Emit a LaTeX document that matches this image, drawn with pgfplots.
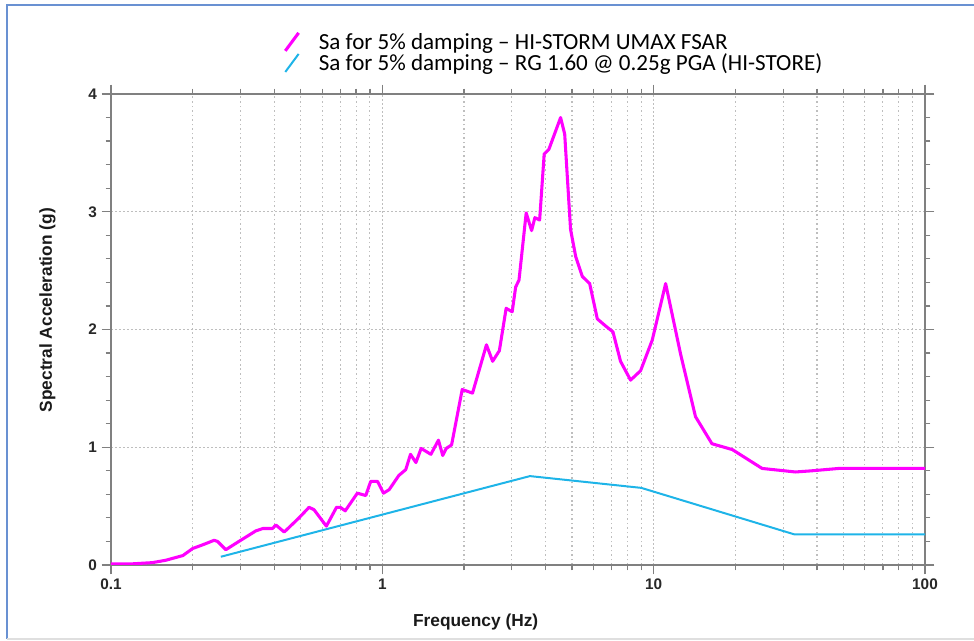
\documentclass[border=0pt]{standalone}
\usepackage{pgfplots}
\pgfplotsset{compat=1.18}
\usepackage{fontspec}
\setmainfont{Liberation Sans}
\newfontfamily\calibri{Carlito}
\definecolor{magline}{RGB}{255,0,255}
\definecolor{blueline}{RGB}{30,180,232}
\definecolor{framebl}{RGB}{105,145,210}
\definecolor{axgray}{RGB}{128,128,128}
\definecolor{gridgray}{RGB}{190,190,190}
\definecolor{txt}{RGB}{40,40,40}
\begin{document}
\begin{tikzpicture}
\path[use as bounding box] (-83.25pt,-57pt) rectangle (647.25pt,423.75pt);
\draw[framebl, line width=1.6pt] (-78pt,-55.5pt) -- (-78pt,420pt) -- (660pt,420pt);
\draw[gray!25, line width=0.8pt] (-78pt,-55.5pt) -- (660pt,-55.5pt);
\begin{axis}[
  at={(0pt,0pt)}, anchor=south west,
  scale only axis, width=610.5pt, height=353.25pt,
  xmode=log, xmin=0.1, xmax=100, ymin=0, ymax=4,
  log basis x=10,
  xtick={0.1,1,10,100}, xticklabels={0.1,1,10,100},
  minor xtick={0.2,0.3,0.4,0.5,0.6,0.7,0.8,0.9,2,3,4,5,6,7,8,9,20,30,40,50,60,70,80,90},
  ytick={0,1,2,3,4}, yticklabels={0,1,2,3,4},
  minor y tick num=4,
  tick align=outside,
  major tick length=7pt, minor tick length=4pt,
  axis line style={axgray, line width=1.1pt},
  every tick/.style={axgray, line width=0.9pt},
  xmajorgrids=true, xminorgrids=true, ymajorgrids=true,
  major grid style={gridgray, line width=0.8pt, dash pattern=on 1.2pt off 1.8pt},
  minor grid style={gridgray, line width=0.8pt, dash pattern=on 1.2pt off 2.2pt},
  /pgf/number format/assume math mode=true,
  tick label style={font=\fontsize{11.5}{13}\selectfont\bfseries, text=txt},
  xlabel={Frequency (Hz)},
  ylabel={Spectral Acceleration (g)},
  label style={font=\fontsize{13}{15}\selectfont\bfseries, text=black!90},
  xlabel style={at={(axis description cs:0.448,0)}, anchor=center, yshift=-42.75pt},
  ylabel style={at={(axis description cs:-0.078,0.541)}, anchor=center},
  legend style={at={(axis description cs:0.207,1.141)}, anchor=north west, draw=none, fill=none,
    font=\calibri\fontsize{17.3}{19}\selectfont, row sep=-2pt,
    /tikz/every odd column/.append style={column sep=12pt}},
  legend cell align=left,
  legend image code/.code={\draw[#1] (0pt,-6.5pt) -- (10pt,7pt);},
]
\addplot[magline, line width=2.3pt, line join=round] coordinates {
(0.1,0.01) (0.12,0.01) (0.142,0.02) (0.159,0.04) (0.184,0.08) (0.2,0.14)
(0.217,0.17) (0.24,0.21) (0.247,0.20) (0.265,0.13) (0.296,0.20) (0.342,0.29)
(0.363,0.31) (0.394,0.31) (0.405,0.34) (0.435,0.28) (0.493,0.40) (0.537,0.49)
(0.56,0.47) (0.622,0.33) (0.678,0.49) (0.70,0.49) (0.73,0.46) (0.809,0.61)
(0.869,0.59) (0.906,0.71) (0.96,0.71) (1.01,0.61) (1.06,0.64) (1.15,0.76)
(1.22,0.81) (1.27,0.94) (1.33,0.87) (1.39,0.99) (1.51,0.94) (1.61,1.06)
(1.67,0.93) (1.72,0.99) (1.80,1.02) (1.97,1.49) (2.15,1.46) (2.42,1.87)
(2.55,1.73) (2.70,1.82) (2.86,2.18) (3.01,2.15) (3.10,2.36) (3.19,2.42)
(3.39,2.99) (3.55,2.84) (3.65,2.95) (3.80,2.93) (3.95,3.49) (4.11,3.53)
(4.54,3.80) (4.70,3.66) (4.94,2.85) (5.16,2.62) (5.46,2.45) (5.81,2.39)
(6.20,2.09) (6.65,2.03) (7.08,1.98) (7.55,1.73) (8.22,1.57) (8.95,1.65)
(9.88,1.91) (11.07,2.39) (12.57,1.79) (14.26,1.26) (16.4,1.03) (19.5,0.98)
(25.1,0.82) (33.3,0.79) (38.3,0.80) (48.1,0.82) (100,0.82)
};
\addlegendentry{Sa for 5\% damping – HI-STORM UMAX FSAR}
\addplot[blueline, line width=1.5pt, line join=round] coordinates {
(0.254,0.07) (3.5,0.755) (9,0.655) (33,0.26) (100,0.26)
};
\addlegendentry{Sa for 5\% damping – RG 1.60 @ 0.25g PGA (HI-STORE)}
\end{axis}
\end{tikzpicture}
\end{document}
